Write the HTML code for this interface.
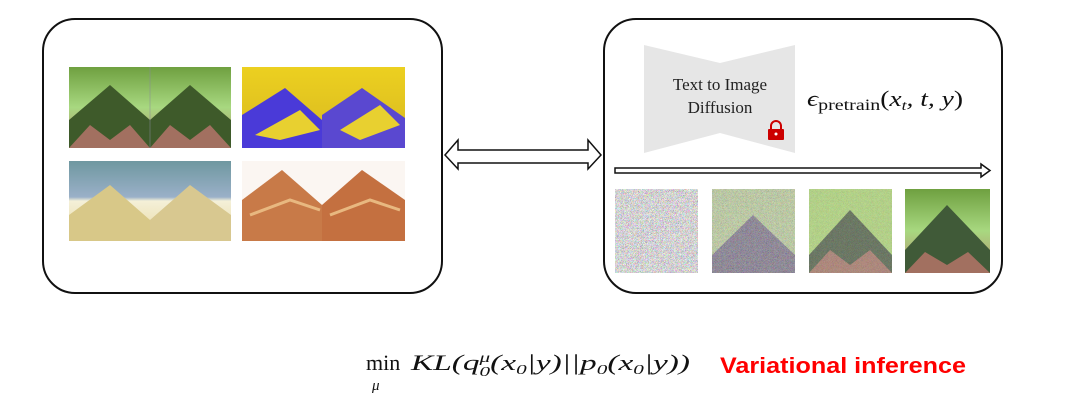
<!DOCTYPE html>
<html><head><meta charset="utf-8"><style>
html,body{margin:0;padding:0;background:#fff;width:1080px;height:407px;overflow:hidden}
</style></head><body>
<svg width="1080" height="407" viewBox="0 0 1080 407" xmlns="http://www.w3.org/2000/svg">
<defs>
<linearGradient id="gGreen" x1="0" y1="0" x2="0" y2="1"><stop offset="0" stop-color="#6fa040"/><stop offset="0.5" stop-color="#a8d880"/><stop offset="1" stop-color="#b88c70"/></linearGradient>
<linearGradient id="gYel" x1="0" y1="0" x2="0" y2="1"><stop offset="0" stop-color="#ecd020"/><stop offset="1" stop-color="#d8b820"/></linearGradient>
<linearGradient id="gSand" x1="0" y1="0" x2="0" y2="1"><stop offset="0" stop-color="#6f98a0"/><stop offset="0.45" stop-color="#9ab0c8"/><stop offset="0.5" stop-color="#f4f0d8"/><stop offset="1" stop-color="#e8d8a0"/></linearGradient>
<filter id="noise" x="0" y="0" width="100%" height="100%"><feTurbulence type="turbulence" baseFrequency="1.2" numOctaves="1" seed="5"/><feColorMatrix type="matrix" values="2 0 0 0 0.35  0 2 0 0 0.35  0 0 2 0 0.35  0 0 0 0 1"/></filter>
</defs>

<rect x="43" y="19" width="399" height="274" rx="32" fill="#fff" stroke="#111" stroke-width="2"/>
<rect x="69" y="67" width="162" height="81" fill="url(#gGreen)"/>
<polygon points="69,120 110,85 150,120 150,148 69,148" fill="#3e5a2a"/>
<polygon points="150,120 190,85 231,120 231,148 150,148" fill="#3e5a2a"/>
<polygon points="69,148 90,125 110,140 130,125 150,148" fill="#a27060"/>
<polygon points="150,148 170,125 190,140 210,125 231,148" fill="#a27060"/>
<line x1="150" y1="67" x2="150" y2="148" stroke="#889" stroke-width="0.5"/>
<rect x="242" y="67" width="163" height="81" fill="url(#gYel)"/>
<polygon points="242,148 242,115 285,88 322,120 322,148" fill="#4a3ad8"/>
<polygon points="322,148 322,115 362,88 405,118 405,148" fill="#5a48d0"/>
<polygon points="255,135 300,110 320,130 280,140" fill="#e8d030"/>
<polygon points="340,130 380,105 400,125 360,140" fill="#e8d030"/>
<rect x="69" y="161" width="162" height="80" fill="url(#gSand)"/>
<polygon points="69,241 69,215 110,185 150,220 150,241" fill="#d8c888"/>
<polygon points="150,241 150,220 190,185 231,215 231,241" fill="#d8c890"/>
<rect x="242" y="161" width="163" height="80" fill="#fbf6f2"/>
<polygon points="242,241 242,200 282,170 322,205 322,241" fill="#c87a48"/>
<polygon points="322,241 322,205 362,170 405,200 405,241" fill="#c47040"/>
<polyline points="250,215 290,200 320,210" fill="none" stroke="#e8b880" stroke-width="3"/>
<polyline points="330,215 370,200 400,210" fill="none" stroke="#e8b880" stroke-width="3"/>

<polygon points="445,155 458,140 458,150 588,150 588,140 601,155 588,169 588,163 458,163 458,169" fill="#fff" stroke="#111" stroke-width="1.5"/>

<rect x="604" y="19" width="398" height="274" rx="32" fill="#fff" stroke="#111" stroke-width="2"/>
<polygon points="644,45 720,63 795,45 795,153 720,133 644,153" fill="#e6e6e6"/>
<text x="720" y="90" font-family="Liberation Serif, serif" font-size="17" text-anchor="middle" fill="#222">Text to Image</text>
<text x="720" y="113" font-family="Liberation Serif, serif" font-size="17" text-anchor="middle" fill="#222">Diffusion</text>
<path d="M771,130 v-4 a5,5 0 0 1 10,0 v4" fill="none" stroke="#c00" stroke-width="2"/>
<rect x="768" y="129" width="16" height="11" rx="1" fill="#c00"/>
<circle cx="776" cy="134" r="1.5" fill="#fff"/>
<text x="807" y="106" font-family="Liberation Serif, serif" font-size="22" font-style="italic" fill="#111" textLength="156" lengthAdjust="spacingAndGlyphs">ϵ<tspan font-style="normal" font-size="16" dy="4">pretrain</tspan><tspan font-style="normal" dy="-4">(</tspan>x<tspan font-size="14" dy="4">t</tspan><tspan dy="-4">, t, y</tspan><tspan font-style="normal">)</tspan></text>
<polygon points="615,168 981,168 981,164 990,170.5 981,177 981,173 615,173" fill="#fff" stroke="#111" stroke-width="1.5"/>
<rect x="615" y="189" width="83" height="84" fill="#ccc" filter="url(#noise)"/>
<g>
<rect x="712" y="189" width="83" height="84" fill="#a8c080"/>
<polygon points="712,273 712,255 753,215 795,255 795,273" fill="#5a5068"/>
<rect x="712" y="189" width="83" height="84" fill="#aaa" filter="url(#noise)" opacity="0.45"/>
</g>
<g>
<rect x="809" y="189" width="83" height="84" fill="#a8d070"/>
<polygon points="809,273 809,255 850,210 892,255 892,273" fill="#4a5a40"/>
<polygon points="809,273 830,250 850,265 870,250 892,273" fill="#a07060"/>
<rect x="809" y="189" width="83" height="84" fill="#aaa" filter="url(#noise)" opacity="0.25"/>
</g>
<g>
<rect x="905" y="189" width="85" height="84" fill="url(#gGreen)"/>
<polygon points="905,273 905,250 947,205 990,250 990,273" fill="#405a38"/>
<polygon points="905,273 925,252 947,265 968,252 990,273" fill="#a27060"/>
</g>

<text x="366" y="370" font-family="Liberation Serif, serif" font-size="22" fill="#111">min</text>
<text x="372" y="390" font-family="Liberation Serif, serif" font-size="15" font-style="italic" fill="#111">μ</text>
<text x="411" y="370" font-family="Liberation Serif, serif" font-size="22" font-style="italic" fill="#111" textLength="279" lengthAdjust="spacingAndGlyphs">KL(q<tspan font-size="14" dy="6">0</tspan><tspan font-size="14" dx="-7" dy="-14">μ</tspan><tspan dy="8">(x</tspan><tspan font-size="14" dy="4">0</tspan><tspan dy="-4">|y)||p</tspan><tspan font-size="14" dy="4">0</tspan><tspan dy="-4">(x</tspan><tspan font-size="14" dy="4">0</tspan><tspan dy="-4">|y))</tspan></text>
<text x="720" y="373" font-family="Liberation Sans, sans-serif" font-size="22" font-weight="bold" fill="#f00" textLength="246" lengthAdjust="spacingAndGlyphs">Variational inference</text>
</svg>
</body></html>
